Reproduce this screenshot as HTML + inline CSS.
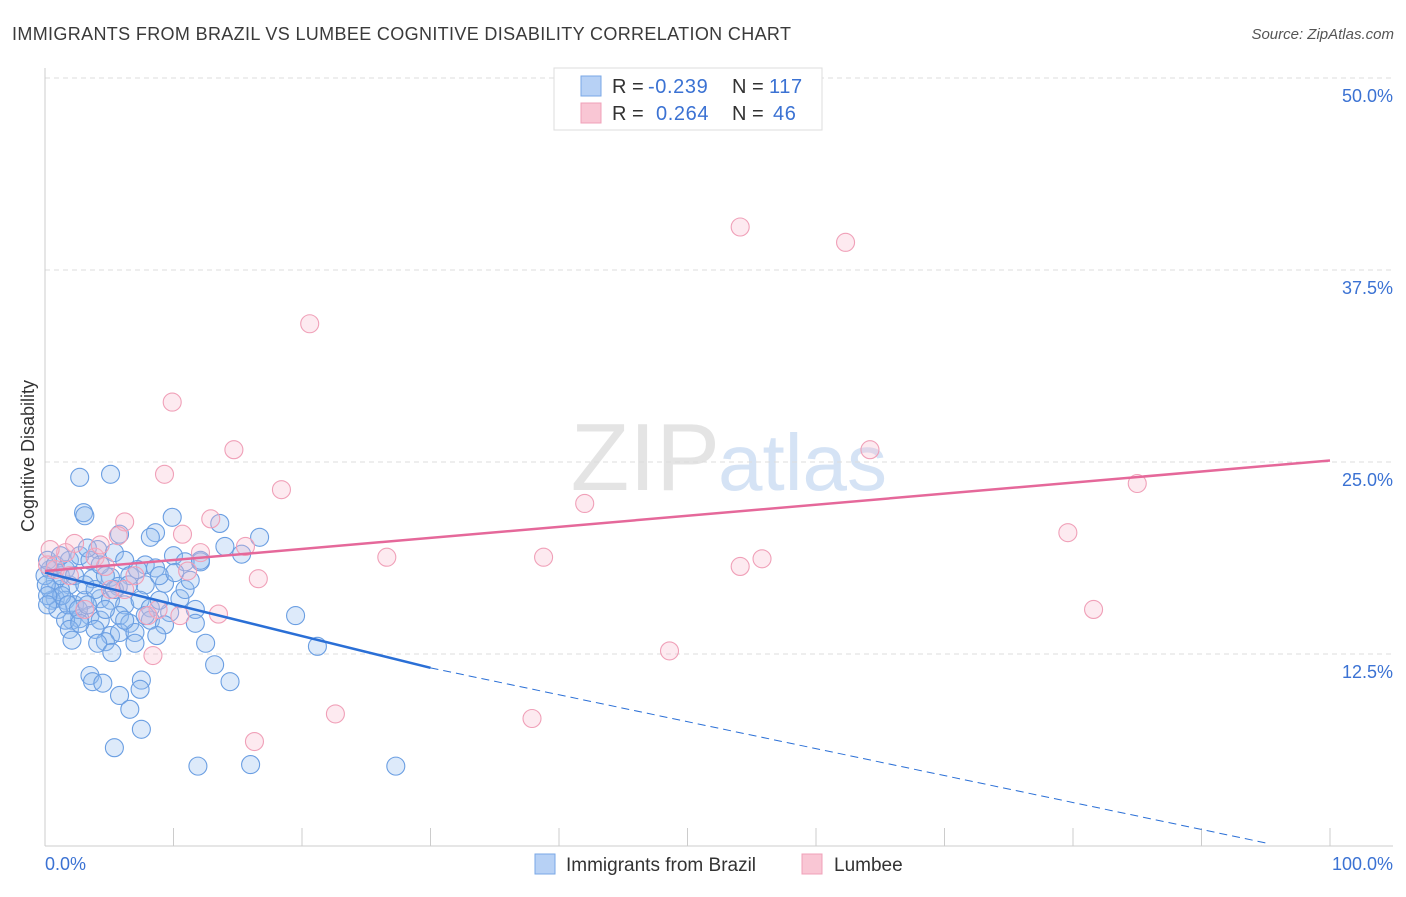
<!DOCTYPE html>
<html><head><meta charset="utf-8"><style>
body{margin:0;background:#fff;font-family:"Liberation Sans",sans-serif;}
svg text{font-family:"Liberation Sans",sans-serif;}
</style></head><body>
<svg id="c" width="1406" height="892" xmlns="http://www.w3.org/2000/svg">
<text x="12" y="40" font-size="18" fill="#3a3a3a" letter-spacing="0.35">IMMIGRANTS FROM BRAZIL VS LUMBEE COGNITIVE DISABILITY CORRELATION CHART</text>
<text x="1394" y="39" font-size="15" fill="#555" font-style="italic" text-anchor="end">Source: ZipAtlas.com</text>
<text x="720" y="490" font-size="96" fill="#e4e4e4" font-family="Liberation Serif" text-anchor="end">ZIP</text>
<text x="718" y="490" font-size="80" fill="#d5e3f5">atlas</text>
<g id="grid"></g>
<g id="pts"></g>
<g id="lines"></g>
<text transform="translate(34,456) rotate(-90)" font-size="18" fill="#333" text-anchor="middle">Cognitive Disability</text>
<g>
<rect x="554" y="68" width="268" height="62" fill="#fff" stroke="#ddd"/>
<rect x="581" y="76" width="20" height="20" fill="#b7d1f5" stroke="#7aa7e6"/>
<text x="612" y="93" font-size="20" fill="#333">R = </text><text x="648" y="93" font-size="20" fill="#3b72d3" letter-spacing="0.6">-0.239</text>
<text x="732" y="93" font-size="20" fill="#333">N = </text><text x="769" y="93" font-size="20" fill="#3b72d3" letter-spacing="0.6">117</text>
<rect x="581" y="103" width="20" height="20" fill="#f9c6d4" stroke="#f0a0b8"/>
<text x="612" y="120" font-size="20" fill="#333">R = </text><text x="656" y="120" font-size="20" fill="#3b72d3" letter-spacing="0.6">0.264</text>
<text x="732" y="120" font-size="20" fill="#333">N = </text><text x="773" y="120" font-size="20" fill="#3b72d3" letter-spacing="0.6">46</text>
</g>
<g>
<rect x="535" y="854" width="20" height="20" fill="#b7d1f5" stroke="#7aa7e6"/>
<text x="566" y="871" font-size="19" fill="#333">Immigrants from Brazil</text>
<rect x="802" y="854" width="20" height="20" fill="#f9c6d4" stroke="#f0a0b8"/>
<text x="834" y="871" font-size="19" fill="#333">Lumbee</text>
</g>
</svg>
<script>
const yTicks=[12.5,25,37.5,50];
const xTickLabels=["0.0%","100.0%"];
const brazilX=[2.7,5.1,3.0,3.1,9.9,13.6,16.7,8.6,8.2,5.8,14.0,15.3,10.0,12.1,10.9,4.1,5.4,6.2,7.8,5.1,6.6,8.6,9.3,7.8,5.7,3.7,1.9,1.2,0.8,1.6,2.3,3.1,4.3,5.1,6.2,7.4,8.2,9.7,11.7,10.5,10.9,3.5,2.7,2.1,4.3,5.8,6.6,8.2,9.3,11.7,19.5,3.9,5.1,5.8,7.0,8.7,4.7,4.1,7.0,12.5,21.2,5.2,13.2,3.5,3.7,4.5,7.5,7.4,5.8,14.4,6.6,7.5,5.4,11.9,16.0,27.3,0.4,0.8,1.2,0.4,0.5,1.0,1.6,1.9,0.2,0.8,1.6,2.3,3.1,3.9,1.9,2.7,3.5,4.3,1.3,1.8,2.6,3.3,4.7,5.4,6.5,7.2,8.9,10.1,11.3,3.3,0.0,0.1,0.2,1.2,2.1,2.7,6.2,7.8,8.9,12.1,0.2,4.7];
const brazilY=[24.0,24.2,21.7,21.5,21.4,21.0,20.1,20.4,20.1,20.3,19.5,19.0,18.9,18.5,18.5,19.3,19.1,18.6,18.3,17.5,17.6,18.1,17.1,17.0,16.9,17.4,17.0,16.7,16.1,16.0,15.7,16.0,16.1,16.0,15.7,16.0,15.5,15.2,15.4,16.1,16.7,15.0,14.8,14.7,14.7,15.0,14.5,14.7,14.4,14.5,15.0,14.1,13.7,13.9,13.9,13.7,13.3,13.2,13.2,13.2,13.0,12.6,11.8,11.1,10.7,10.6,10.8,10.2,9.8,10.7,8.9,7.6,6.4,5.2,5.3,5.2,18.0,17.3,17.6,16.7,16.0,15.4,14.7,14.1,18.6,18.3,18.0,17.6,17.0,16.7,18.6,18.9,18.6,18.3,16.3,15.7,15.4,15.7,15.4,16.7,17.0,18.0,17.6,17.8,17.3,19.4,17.6,17.0,16.3,18.9,13.4,14.5,14.7,15.0,16.0,18.6,15.7,17.6];
const lumbeeX=[54.1,62.3,20.6,9.9,14.7,64.2,9.3,18.4,85.0,42.0,6.2,12.9,79.6,10.7,2.3,5.7,15.6,12.1,1.6,3.9,26.6,38.8,55.8,54.1,0.4,4.7,7.0,11.1,16.6,0.8,6.2,3.1,8.8,8.0,13.5,81.6,10.5,8.4,48.6,22.6,37.9,16.3,0.2,5.1,1.9,4.3];
const lumbeeY=[40.3,39.3,34.0,28.9,25.8,25.8,24.2,23.2,23.6,22.3,21.1,21.3,20.4,20.3,19.7,20.2,19.5,19.1,19.1,18.8,18.8,18.8,18.7,18.2,19.3,18.2,17.6,17.9,17.4,18.0,16.7,15.4,15.4,15.0,15.1,15.4,15.0,12.4,12.7,8.6,8.3,6.8,18.3,16.7,17.6,19.6];
const brazilTrend=[0,17.8,30,11.6,95,0.2];
const lumbeeTrend=[0,17.9,100,25.1];
const NS="http://www.w3.org/2000/svg";
const X=v=>45+v*12.85, Y=v=>846-v*15.36;
function mk(t,a,p){const e=document.createElementNS(NS,t);for(const k in a)e.setAttribute(k,a[k]);p.appendChild(e);return e;}
const g=document.getElementById('grid');
yTicks.forEach(t=>{
 const l=mk('line',{x1:45,x2:1393,y1:Y(t),y2:Y(t),stroke:'#ddd','stroke-dasharray':'5,4'},g);
 
 
 const tx=mk('text',{x:1393,y:Y(t)+24,'font-size':18,fill:'#3b72d3','text-anchor':'end'},g);tx.textContent=t.toFixed(1)+'%';
 
 
});
const ax=mk('line',{x1:45,x2:1393,y1:846,y2:846,stroke:'#ccc'},g);


const ay=mk('line',{x1:45,x2:45,y1:68,y2:846,stroke:'#ccc'},g);


for(let i=0;i<=10;i++){const t=mk('line',{x1:X(i*10),x2:X(i*10),y1:828,y2:846,stroke:'#ccc'},g);
 
 }
[[0,'start'],[100,'end']].forEach((d,i)=>{const t=mk('text',{x:i?1393:45,y:870,'font-size':18,fill:'#3b72d3','text-anchor':d[1]},g);t.textContent=xTickLabels[i];
 
 });
const p=document.getElementById('pts');
brazilX.forEach((x,i)=>{const c=mk('circle',{cx:X(x),cy:Y(brazilY[i]),r:9,fill:'rgba(150,190,240,0.32)',stroke:'#6a9ee2','stroke-width':1.1},p);
 
 });
lumbeeX.forEach((x,i)=>{const c=mk('circle',{cx:X(x),cy:Y(lumbeeY[i]),r:9,fill:'rgba(248,185,205,0.3)',stroke:'#f0a0b8','stroke-width':1.1},p);
 
 });
const L=document.getElementById('lines');
const b1=mk('line',{x1:X(brazilTrend[0]),y1:Y(brazilTrend[1]),x2:X(brazilTrend[2]),y2:Y(brazilTrend[3]),stroke:'#2a6fd6','stroke-width':2.5},L);


const b2=mk('line',{x1:X(brazilTrend[2]),y1:Y(brazilTrend[3]),x2:X(brazilTrend[4]),y2:Y(brazilTrend[5]),stroke:'#2a6fd6','stroke-width':1,'stroke-dasharray':'8,5'},L);


const l1=mk('line',{x1:X(lumbeeTrend[0]),y1:Y(lumbeeTrend[1]),x2:X(lumbeeTrend[2]),y2:Y(lumbeeTrend[3]),stroke:'#e5689a','stroke-width':2.5},L);


</script>
</body></html>
